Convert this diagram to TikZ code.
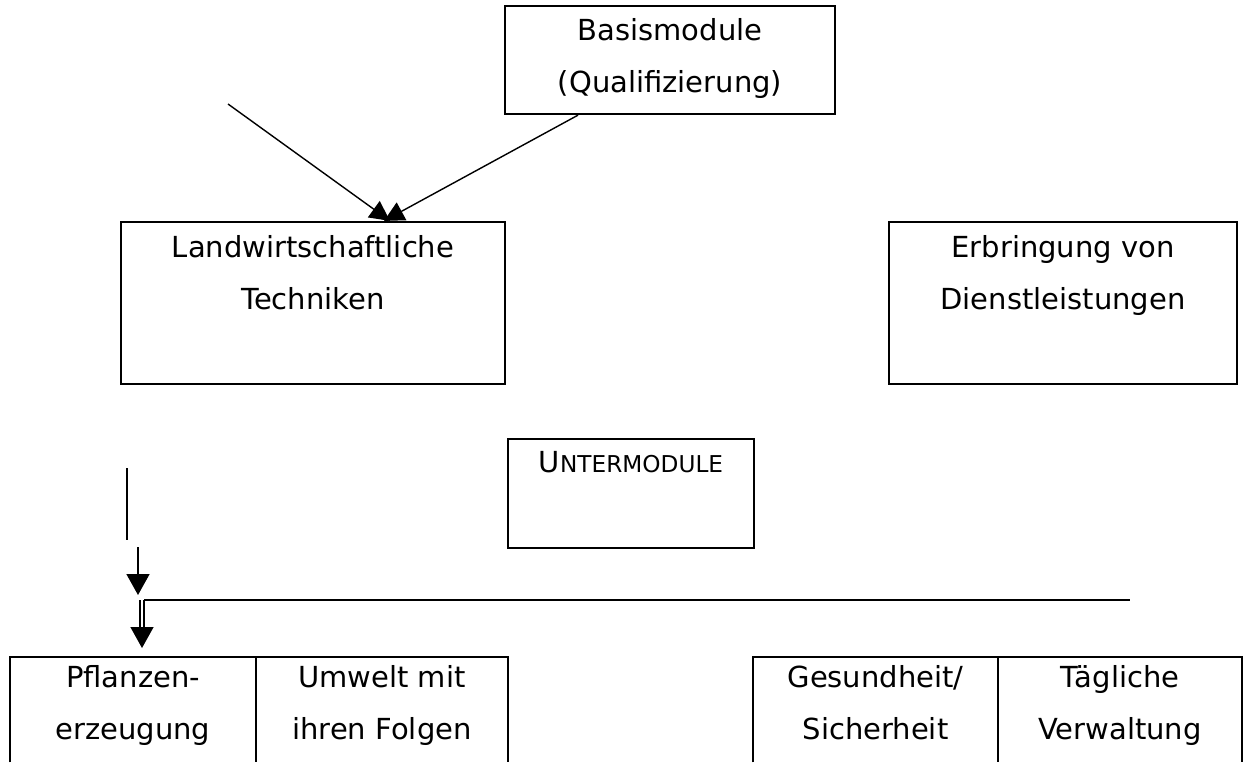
\documentclass[tikz,border=0pt]{standalone}
\usepackage{fontspec}
\setmainfont{DejaVu Sans}
\usetikzlibrary{arrows.meta,positioning}

\begin{document}
\begin{tikzpicture}[
  x=0.02cm,y=-0.02cm,
  font=\fontsize{16.5}{29.6}\selectfont,
  box/.style={rectangle,draw=black,line width=1.3pt,inner sep=0pt},
  cell/.style={rectangle,inner sep=0pt,minimum height=2.1cm},
  frame/.style={draw=black,line width=1.3pt},
  txt/.style={align=center,inner sep=0pt},
  ln/.style={draw=black,line width=0.9pt},
  arr/.style={-{Triangle[length=4mm,width=4mm]},draw=black,line width=0.8pt},
  arrb/.style={-{Triangle[length=4.2mm,width=4.6mm]},draw=black,line width=0.9pt}
]
\useasboundingbox (0,0) rectangle (1246,762);

% --- main modules
\node[box,minimum width=6.6cm,minimum height=2.16cm]  (basis) at (670,60) {};
\node[txt,below=0.27cm of basis.north] (basistxt) {Basismodule\\(Qualifizierung)};

\node[box,minimum width=7.68cm,minimum height=3.24cm] (landw) at (313,303) {};
\node[txt,below=0.29cm of landw.north] (landwtxt) {Landwirtschaftliche\\Techniken};

\node[box,minimum width=6.96cm,minimum height=3.24cm] (erbr) at (1063,303) {};
\node[txt,below=0.29cm of erbr.north] (erbrtxt) {Erbringung von\\Dienstleistungen};

\node[box,minimum width=4.92cm,minimum height=2.18cm] (unter) at (631,493.5) {};
\node[txt,below=0.26cm of unter.north] (untertxt) {U{\fontsize{13.2}{16}\selectfont NTERMODULE}};

% --- arrows into the first module
\coordinate (lstart) at (228,104);
\draw[arr] (lstart) -- ([xshift=1.54cm]landw.north);
\draw[arr] ([xshift=-1.84cm]basis.south) -- ([xshift=1.42cm]landw.north);

% --- branch at the left
\coordinate (vtop) at (127,468);
\coordinate (vbot) at (127,540);
\coordinate (atop) at (138,547);
\coordinate (abot) at (138,595);
\coordinate (dtop) at (142,600);
\coordinate (dbot) at (142,648);
\coordinate (hstart) at (144,600);
\coordinate (hend) at (1130,600);
\draw[ln] (vtop) -- (vbot);
\draw[arrb] (atop) -- (abot);
\draw[arrb,line width=0.8pt,double,double distance=1.5pt] (dtop) -- (dbot);
\draw[ln] (hstart) -- (hend);

% --- sub modules
\node[cell,minimum width=4.92cm] (pfl) at (133,709.5) {};
\node[cell,minimum width=5.04cm] (umw) at (382,709.5) {};
\node[cell,minimum width=4.9cm]  (ges) at (875.5,709.5) {};
\node[cell,minimum width=4.88cm] (tag) at (1120,709.5) {};
\draw[frame] (pfl.south west) |- (umw.north east) -- (umw.south east);
\draw[frame] (pfl.north east) -- (pfl.south east);
\draw[frame] (ges.south west) |- (tag.north east) -- (tag.south east);
\draw[frame] (ges.north east) -- (ges.south east);

\node[txt,below=0.17cm of pfl.north] (pfltxt) {Pflanzen-\\erzeugung};
\node[txt,below=0.17cm of umw.north] (umwtxt) {Umwelt mit\\ihren Folgen};
\node[txt,below=0.17cm of ges.north] (gestxt) {Gesundheit/\\Sicherheit};
\node[txt,below=0.17cm of tag.north] (tagtxt) {Tägliche\\Verwaltung};
\end{tikzpicture}
\end{document}
